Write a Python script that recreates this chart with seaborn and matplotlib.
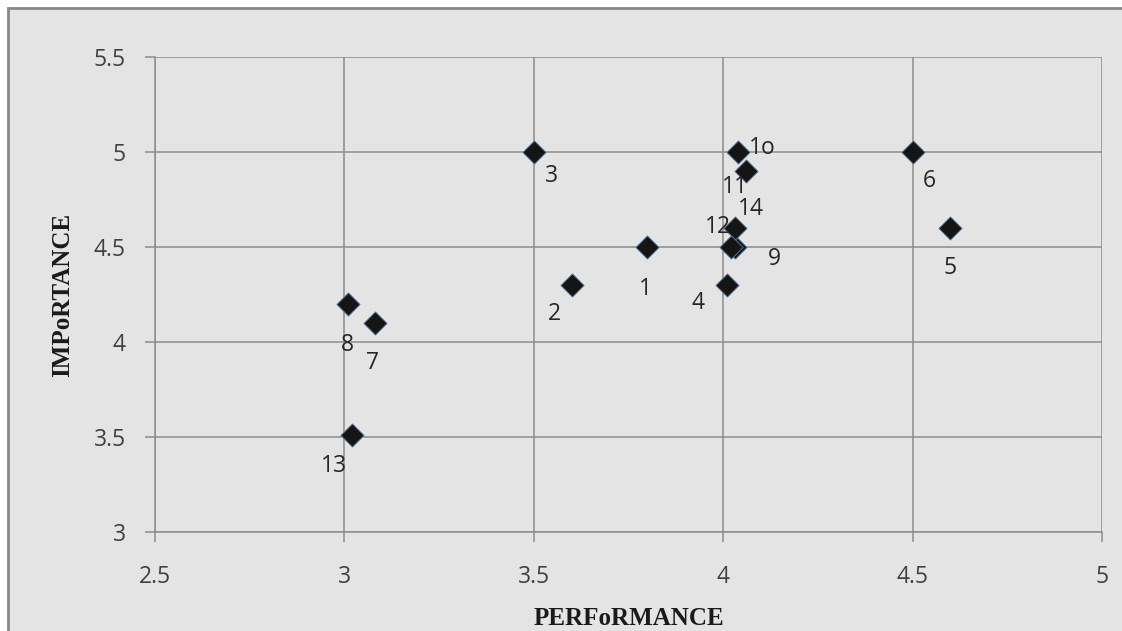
import numpy as np
import pandas as pd
import matplotlib
matplotlib.use("Agg")
import matplotlib.pyplot as plt
from matplotlib.patches import Rectangle
import seaborn as sns


# ----------------------------
# Data
# ----------------------------

point_labels = ["1", "2", "3", "4", "5", "6", "7",
                "8", "9", "1o", "11", "12", "13", "14"]

performance = [3.80, 3.60, 3.50, 4.01, 4.60, 4.50, 3.08,
               3.01, 4.03, 4.04, 4.06, 4.03, 3.02, 4.02]

importance = [4.50, 4.30, 5.00, 4.30, 4.60, 5.00, 4.10,
              4.20, 4.50, 5.00, 4.90, 4.60, 3.51, 4.50]

x_ticks = [2.5, 3, 3.5, 4, 4.5, 5]
y_ticks = [3, 3.5, 4, 4.5, 5, 5.5]

# label offsets (pixels) from each point
label_offsets = {
    "1": (-2, -42), "2": (-17, -29), "3": (18, -24), "4": (-29, -18),
    "5": (0, -40), "6": (17, -29), "7": (-2, -40), "8": (-1, -41),
    "9": (40, -12), "1o": (24, 4), "11": (-11, -16), "12": (-17, 1),
    "13": (-18, -31), "14": (20, 38),
}

df = pd.DataFrame({
    "label": point_labels,
    "PERFoRMANCE": performance,
    "IMPoRTANCE": importance,
})


# ----------------------------
# Plot
# ----------------------------

sns.set_style("white")
plt.rcParams["font.family"] = ["Open Sans", "DejaVu Sans"]

bg = "#e4e4e4"
grid_col = "#8c8c8c"
text_col = "#404040"

fig = plt.figure(figsize=(11.22, 6.31), dpi=100, facecolor="white")

# outer chart frame
fig.patches.append(
    Rectangle((8 / 1122, -0.2), 1.2, 0.2 + 1 - 8 / 631,
              transform=fig.transFigure, facecolor=bg,
              edgecolor="#888888", linewidth=2, zorder=-10)
)

ax = fig.add_axes([155 / 1122, 1 - 532 / 631,
                   (1102 - 155) / 1122, (532 - 57) / 631])
ax.set_facecolor(bg)

sns.scatterplot(
    data=df,
    x="PERFoRMANCE",
    y="IMPoRTANCE",
    marker="D",
    s=140,
    color="#151515",
    edgecolor="#5a7fa6",
    linewidth=0.6,
    zorder=3,
    ax=ax
)

for lab, x, y in zip(point_labels, performance, importance):
    dx, dy = label_offsets[lab]
    ax.annotate(
        lab, (x, y),
        xytext=(dx, dy),
        textcoords="offset pixels",
        ha="center", va="center",
        fontsize=16.5, color="#262626",
        zorder=4
    )

ax.set_xlim(2.5, 5)
ax.set_ylim(3, 5.5)
ax.set_xticks(x_ticks)
ax.set_yticks(y_ticks)
ax.set_xticklabels([f"{t:g}" for t in x_ticks])
ax.set_yticklabels([f"{t:g}" for t in y_ticks])

ax.grid(True, color=grid_col, linewidth=1.1)
ax.set_axisbelow(True)

for side in ["top", "right"]:
    ax.spines[side].set_visible(False)
for side in ["left", "bottom"]:
    ax.spines[side].set_color(grid_col)
    ax.spines[side].set_linewidth(1.1)

ax.tick_params(
    axis="both",
    direction="out",
    length=7,
    width=1.1,
    color=grid_col,
    labelsize=16.5,
    labelcolor=text_col,
    pad=14
)
ax.tick_params(axis="x", bottom=True, pad=17)
ax.tick_params(axis="y", left=True)

ax.set_xlabel(
    "PERFoRMANCE",
    family="Liberation Serif",
    fontweight="bold",
    fontsize=18,
    color="#1a1a1a",
    labelpad=13
)
ax.set_ylabel(
    "IMPoRTANCE",
    family="Liberation Serif",
    fontweight="bold",
    fontsize=18,
    color="#1a1a1a",
    labelpad=14
)

plt.savefig("out.png", dpi=100, facecolor="white")
plt.close()
